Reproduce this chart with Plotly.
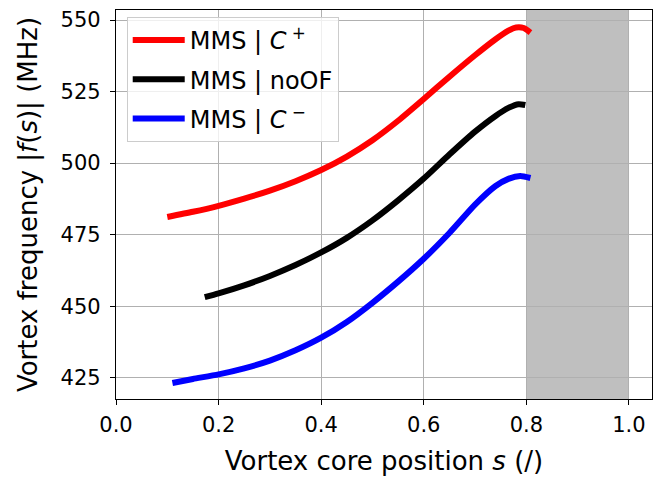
import plotly.graph_objects as go

# Data
s_cplus = [0.10, 0.15, 0.20, 0.25, 0.30, 0.35, 0.40, 0.45, 0.50, 0.55, 0.60, 0.65, 0.70, 0.74, 0.765, 0.78, 0.795, 0.808]
f_cplus = [481.2, 483.0, 485.1, 487.6, 490.4, 493.7, 497.6, 502.3, 508.0, 514.8, 522.4, 530.2, 537.7, 543.3, 546.3, 547.4, 547.2, 545.6]

s_noof = [0.173, 0.20, 0.25, 0.30, 0.35, 0.40, 0.45, 0.50, 0.55, 0.60, 0.65, 0.70, 0.74, 0.765, 0.785, 0.798]
f_noof = [453.2, 454.5, 457.3, 460.6, 464.4, 468.8, 473.9, 480.0, 487.0, 494.6, 503.0, 511.0, 516.5, 519.3, 520.6, 520.3]

s_cminus = [0.11, 0.15, 0.20, 0.25, 0.30, 0.35, 0.40, 0.45, 0.50, 0.55, 0.60, 0.65, 0.70, 0.74, 0.765, 0.788, 0.808]
f_cminus = [423.2, 424.6, 426.2, 428.3, 431.0, 434.6, 439.0, 444.5, 451.2, 458.6, 466.6, 475.6, 485.5, 492.0, 494.5, 495.5, 494.8]

span_x = [0.8, 1.0]
x_ticks = [0.0, 0.2, 0.4, 0.6, 0.8, 1.0]
y_ticks = [425, 450, 475, 500, 525, 550]

FONT = "DejaVu Sans"

fig = go.Figure()
series = [
    ("MMS | <i>C</i><sup> +</sup>", s_cplus, f_cplus, "#ff0000"),
    ("MMS | noOF", s_noof, f_noof, "#000000"),
    ("MMS | <i>C</i><sup> −</sup>", s_cminus, f_cminus, "#0000ff"),
]
for i, (name, xs, ys, col) in enumerate(series):
    fig.add_trace(go.Scatter(
        x=xs, y=ys, mode="lines", name=name,
        line=dict(color=col, width=6, shape="spline", smoothing=0.6),
        legendgroup=f"g{i}",
    ))

fig.add_shape(type="rect", xref="x", yref="paper", x0=span_x[0], x1=span_x[1],
              y0=0, y1=1, fillcolor="#bfbfbf", line=dict(width=0), layer="below")

# page body has an 8px margin: figure is sized to fit the 662x477 window
fig.update_layout(
    width=654, height=469,
    margin=dict(l=108, r=10, t=2, b=78),
    paper_bgcolor="white", plot_bgcolor="white",
    font=dict(family=FONT, size=21, color="black"),
    legend=dict(
        x=0.02, y=0.982, xanchor="left", yanchor="top",
        bgcolor="rgba(255,255,255,0.8)", bordercolor="#cccccc", borderwidth=1,
        font=dict(size=24), tracegroupgap=5, traceorder="grouped", itemwidth=52,
    ),
    xaxis=dict(
        range=[0, 1.045], tickvals=x_ticks, ticktext=[f"{v:.1f}" for v in x_ticks],
        showgrid=True, gridcolor="#b0b0b0", gridwidth=1,
        showline=True, linecolor="black", linewidth=1.2, mirror=True,
        ticks="outside", ticklen=5, tickcolor="black",
        zeroline=False, automargin=False, ticklabelstandoff=2,
        title=dict(text="Vortex core position <i>s</i> (/)", font=dict(size=26)),
    ),
    yaxis=dict(
        range=[417.6, 553.5], tickvals=y_ticks,
        showgrid=True, gridcolor="#b0b0b0", gridwidth=1,
        showline=True, linecolor="black", linewidth=1.2, mirror=True,
        ticks="outside", ticklen=5, tickcolor="black",
        zeroline=False, automargin=False, ticklabelstandoff=5,
        title=dict(text="Vortex frequency |<i>f</i>(<i>s</i>)| (MHz)", font=dict(size=26)),
    ),
)

fig.write_html("out.html")
